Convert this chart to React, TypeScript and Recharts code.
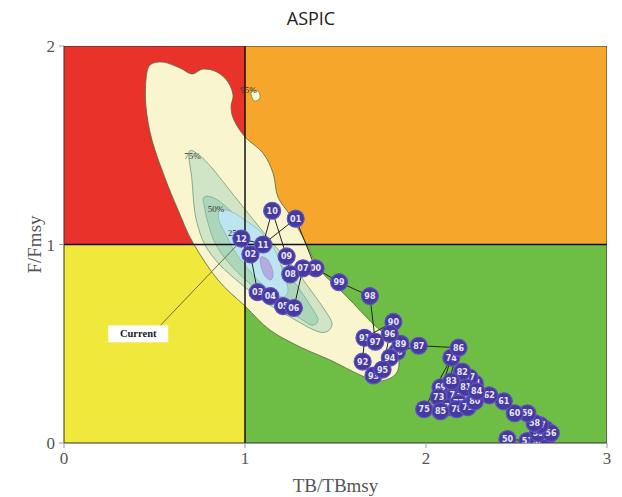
import React from 'react';
import { ScatterChart, Scatter, XAxis, YAxis } from 'recharts';

// ---------- data ----------
const xTicks = [0, 1, 2, 3];
const yTicks = [0, 1, 2];

const quadOverfishing = [[0, 1], [1, 1], [1, 2], [0, 2]]; // red
const quadBoth = [[1, 1], [3, 1], [3, 2], [1, 2]]; // orange
const quadOverfished = [[0, 0], [1, 0], [1, 1], [0, 1]]; // yellow
const quadHealthy = [[1, 0], [3, 0], [3, 1], [1, 1]]; // green

const contour95 = [
  [0.475, 1.904], [0.547, 1.919], [0.641, 1.889], [0.707, 1.859], [0.768, 1.884], [0.845, 1.869],
  [0.906, 1.819], [0.934, 1.753], [0.923, 1.693], [0.939, 1.627], [1.0, 1.542], [1.099, 1.461],
  [1.155, 1.36], [1.182, 1.239], [1.249, 1.149], [1.304, 1.063], [1.348, 0.987], [1.414, 0.872],
  [1.564, 0.736], [1.702, 0.605], [1.818, 0.504], [1.851, 0.403], [1.823, 0.338], [1.735, 0.312],
  [1.635, 0.343], [1.47, 0.418], [1.304, 0.484], [1.138, 0.569], [1.0, 0.69], [0.851, 0.821],
  [0.713, 1.008], [0.63, 1.174], [0.558, 1.335], [0.486, 1.526], [0.453, 1.693], [0.453, 1.829],
];
const contour95Island = [[1.033, 1.768], [1.072, 1.773], [1.083, 1.738], [1.05, 1.723]];
const contour75 = [
  [0.691, 1.466], [0.746, 1.451], [0.818, 1.385], [0.906, 1.285], [0.994, 1.184], [1.083, 1.083],
  [1.171, 0.987], [1.271, 0.882], [1.37, 0.761], [1.448, 0.66], [1.481, 0.599], [1.448, 0.559],
  [1.381, 0.569], [1.249, 0.635], [1.094, 0.72], [0.972, 0.806], [0.862, 0.897], [0.779, 0.997],
  [0.735, 1.108], [0.718, 1.199], [0.707, 1.325],
];
const contour50 = [
  [0.773, 1.239], [0.84, 1.229], [0.945, 1.149], [1.039, 1.063], [1.127, 0.972], [1.221, 0.872],
  [1.304, 0.771], [1.37, 0.68], [1.403, 0.62], [1.37, 0.594], [1.293, 0.635], [1.149, 0.72],
  [1.017, 0.811], [0.906, 0.912], [0.834, 1.008], [0.796, 1.108], [0.779, 1.174],
];
const contour25 = [
  [0.862, 1.174], [0.928, 1.164], [1.0, 1.123], [1.094, 1.058], [1.171, 0.962], [1.21, 0.861],
  [1.238, 0.771], [1.21, 0.736], [1.149, 0.761], [1.072, 0.821], [1.0, 0.897], [0.939, 0.972],
  [0.89, 1.058], [0.856, 1.123],
];
const contourCore = [[1.088, 0.937], [1.127, 0.922], [1.155, 0.861], [1.144, 0.821], [1.11, 0.841], [1.088, 0.892]];

const contourLabels = ['95%', '75%', '50%', '25%'];
const contourLabelX = [1.02, 0.71, 0.84, 0.95];
const contourLabelY = [1.78, 1.445, 1.18, 1.06];

const years = [
  '50', '51', '52', '53', '54', '55', '56', '57', '58', '59',
  '60', '61', '62', '63', '64', '65', '66', '67', '68', '69',
  '70', '71', '72', '73', '74', '75', '76', '77', '78', '79',
  '80', '81', '82', '83', '84', '85', '86', '87', '88', '89',
  '90', '91', '92', '93', '94', '95', '96', '97', '98', '99',
  '00', '01', '02', '03', '04', '05', '06', '07', '08', '09',
  '10', '11', '12',
];
const tbRatio = [
  2.45, 2.56, 2.62, 2.67, 2.66, 2.62, 2.69, 2.63, 2.60, 2.56,
  2.49, 2.43, 2.35, 2.25, 2.27, 2.17, 2.21, 2.24, 2.12, 2.08,
  2.11, 2.16, 2.20, 2.07, 2.14, 1.99, 2.13, 2.18, 2.17, 2.23,
  2.27, 2.22, 2.20, 2.14, 2.28, 2.08, 2.18, 1.96, 1.84, 1.86,
  1.82, 1.66, 1.65, 1.71, 1.80, 1.76, 1.80, 1.72, 1.69, 1.52,
  1.39, 1.28, 1.03, 1.07, 1.14, 1.21, 1.27, 1.32, 1.25, 1.23,
  1.15, 1.10, 0.98,
];
const fRatio = [
  0.02, 0.01, 0.01, 0.03, 0.07, 0.05, 0.05, 0.09, 0.10, 0.15,
  0.15, 0.21, 0.24, 0.26, 0.30, 0.28, 0.31, 0.33, 0.26, 0.28,
  0.22, 0.24, 0.23, 0.23, 0.43, 0.17, 0.18, 0.20, 0.17, 0.18,
  0.21, 0.28, 0.36, 0.31, 0.26, 0.16, 0.48, 0.49, 0.46, 0.50,
  0.61, 0.53, 0.41, 0.34, 0.43, 0.37, 0.55, 0.51, 0.74, 0.81,
  0.88, 1.13, 0.95, 0.76, 0.74, 0.69, 0.68, 0.88, 0.85, 0.94,
  1.17, 1.00, 1.03,
];

const currentLabel = 'Current';
const currentLabelPos = [0.41, 0.55];
const currentPointer = [[0.53, 0.59], [0.98, 1.02]];

// ---------- helpers ----------
const toPts = (arr: number[][]) => arr.map(([x, y]) => ({ x, y }));
const trajectory = years.map((label, i) => ({ x: tbRatio[i], y: fRatio[i], label }));
const contourLabelData = contourLabels.map((label, i) => ({ x: contourLabelX[i], y: contourLabelY[i], label }));

function closedSmooth(pts: { x: number; y: number }[]) {
  const n = pts.length;
  if (!n) return '';
  let d = `M${pts[0].x},${pts[0].y}`;
  for (let i = 0; i < n; i++) {
    const p0 = pts[(i - 1 + n) % n];
    const p1 = pts[i];
    const p2 = pts[(i + 1) % n];
    const p3 = pts[(i + 2) % n];
    const c1x = p1.x + (p2.x - p0.x) / 6;
    const c1y = p1.y + (p2.y - p0.y) / 6;
    const c2x = p2.x - (p3.x - p1.x) / 6;
    const c2y = p2.y - (p3.y - p1.y) / 6;
    d += ` C${c1x},${c1y} ${c2x},${c2y} ${p2.x},${p2.y}`;
  }
  return d + ' Z';
}
function closedLinear(pts: { x: number; y: number }[]) {
  if (!pts.length) return '';
  return 'M' + pts.map((p) => `${p.x},${p.y}`).join(' L') + ' Z';
}
function openLinear(pts: { x: number; y: number }[]) {
  if (!pts.length) return '';
  return 'M' + pts.map((p) => `${p.x},${p.y}`).join(' L');
}

const noShape = () => <g />;

const polyLine = (fill: string, stroke: string, sw: number, smooth: boolean) => (p: any) => (
  <path
    d={smooth ? closedSmooth(p.points || []) : closedLinear(p.points || [])}
    fill={fill}
    stroke={stroke}
    strokeWidth={sw}
  />
);
const segLine = (stroke: string, sw: number) => (p: any) => (
  <path d={openLinear(p.points || [])} fill="none" stroke={stroke} strokeWidth={sw} />
);

const dotShape = (p: any) => {
  if (p.cx == null || p.cy == null) return <g />;
  return (
    <g>
      <circle cx={p.cx} cy={p.cy} r={8.5} fill="#463a9e" stroke="#5d53c0" strokeWidth={1.2} />
      <text
        x={p.cx}
        y={p.cy + 3}
        textAnchor="middle"
        fontSize={8}
        fontFamily="DejaVu Sans, sans-serif"
        fontWeight="bold"
        fill="#e9e6ff"
      >
        {p.payload.label}
      </text>
    </g>
  );
};

const contourLabelShape = (p: any) => (
  <text x={p.cx} y={p.cy + 3} textAnchor="middle" fontSize={9} fontFamily="Liberation Serif, serif" fill="#333">
    {p.payload.label}
  </text>
);

const currentShape = (p: any) => (
  <g>
    <rect x={p.cx - 30} y={p.cy - 8.5} width={60} height={17} fill="#ffffff" />
    <text
      x={p.cx}
      y={p.cy + 3.5}
      textAnchor="middle"
      fontSize={10.5}
      fontWeight="bold"
      fontFamily="Liberation Serif, serif"
      fill="#222"
    >
      {p.payload.label}
    </text>
  </g>
);

const tickStyle = { fontSize: 17, fontFamily: 'Liberation Serif, serif', fill: '#555' };

export default function App() {
  return (
    <div style={{ position: 'absolute', left: 0, top: 0, width: 622, height: 497, background: '#fff' }}>
      <div
        style={{
          position: 'absolute',
          left: 0,
          top: 6,
          width: 622,
          textAlign: 'center',
          fontFamily: 'Open Sans, sans-serif',
          fontSize: 18,
          color: '#222',
          lineHeight: '24px',
        }}
      >
        ASPIC
      </div>
      <ScatterChart
        width={622}
        height={497}
        margin={{ top: 46, right: 15, bottom: 0, left: 0 }}
        style={{ position: 'absolute', left: 0, top: 0 }}
      >
        <XAxis
          type="number"
          dataKey="x"
          domain={[0, 3]}
          ticks={xTicks}
          allowDataOverflow
          height={54}
          tickSize={5}
          tickMargin={4}
          tick={tickStyle}
          tickLine={{ stroke: '#999' }}
          axisLine={{ stroke: '#333' }}
          label={{
            value: 'TB/TBmsy',
            position: 'insideBottom',
            offset: 5,
            style: { fontSize: 19, fontFamily: 'Liberation Serif, serif', fill: '#555' },
          }}
        />
        <YAxis
          type="number"
          dataKey="y"
          domain={[0, 2]}
          ticks={yTicks}
          allowDataOverflow
          width={64}
          tickSize={5}
          tickMargin={4}
          tick={tickStyle}
          tickLine={{ stroke: '#999' }}
          axisLine={{ stroke: '#333' }}
          label={{
            value: 'F/Fmsy',
            angle: -90,
            position: 'center',
            dx: 2,
            style: { fontSize: 19, fontFamily: 'Liberation Serif, serif', fill: '#555' },
          }}
        />
        <Scatter data={toPts(quadOverfishing)} shape={noShape} line={polyLine('#e8322a', 'none', 0, false)} isAnimationActive={false} />
        <Scatter data={toPts(quadBoth)} shape={noShape} line={polyLine('#f6a62b', 'none', 0, false)} isAnimationActive={false} />
        <Scatter data={toPts(quadOverfished)} shape={noShape} line={polyLine('#f0e83b', 'none', 0, false)} isAnimationActive={false} />
        <Scatter data={toPts(quadHealthy)} shape={noShape} line={polyLine('#6ebd44', 'none', 0, false)} isAnimationActive={false} />

        <Scatter data={toPts(contour95)} shape={noShape} line={polyLine('#f8f5cf', '#5b6540', 0.8, true)} isAnimationActive={false} />
        <Scatter data={toPts(contour95Island)} shape={noShape} line={polyLine('#f8f5cf', '#5b6540', 0.6, true)} isAnimationActive={false} />
        <Scatter data={toPts(contour75)} shape={noShape} line={polyLine('#cfe5c6', '#6a8a6a', 0.7, true)} isAnimationActive={false} />
        <Scatter data={toPts(contour50)} shape={noShape} line={polyLine('#acd6ba', '#6a9a80', 0.6, true)} isAnimationActive={false} />
        <Scatter data={toPts(contour25)} shape={noShape} line={polyLine('#bce5ef', '#7ea9b8', 0.6, true)} isAnimationActive={false} />
        <Scatter data={toPts(contourCore)} shape={noShape} line={polyLine('#b4abe0', '#8a82c0', 0.5, true)} isAnimationActive={false} />

        <Scatter data={toPts([[1, 0], [1, 2]])} shape={noShape} line={segLine('#111', 1.5)} isAnimationActive={false} />
        <Scatter data={toPts([[0, 1], [3, 1]])} shape={noShape} line={segLine('#111', 1.5)} isAnimationActive={false} />
        <Scatter data={toPts([[0, 0], [3, 0], [3, 2], [0, 2]])} shape={noShape} line={polyLine('none', '#333', 1, false)} isAnimationActive={false} />

        <Scatter data={contourLabelData} shape={contourLabelShape} isAnimationActive={false} />

        <Scatter data={toPts(currentPointer)} shape={noShape} line={segLine('#5e6040', 0.9)} isAnimationActive={false} />
        <Scatter
          data={[{ x: currentLabelPos[0], y: currentLabelPos[1], label: currentLabel }]}
          shape={currentShape}
          isAnimationActive={false}
        />

        <Scatter data={trajectory} shape={dotShape} line={segLine('#1f2a1a', 1)} isAnimationActive={false} />
      </ScatterChart>
    </div>
  );
}
